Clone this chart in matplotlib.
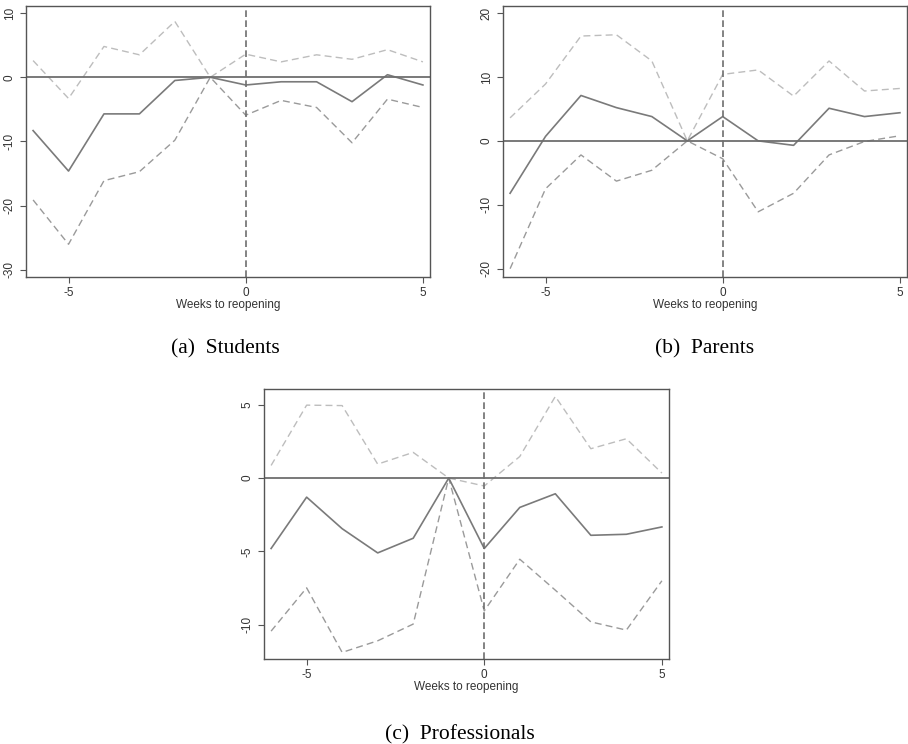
import matplotlib
matplotlib.use("Agg")
import matplotlib.pyplot as plt

plt.rcParams["axes.unicode_minus"] = False
plt.rcParams["font.family"] = ["Liberation Sans", "DejaVu Sans"]

weeks = [-6, -5, -4, -3, -2, -1, 0, 1, 2, 3, 4, 5]

# students: point estimate and 95% bounds
stu_est = [-8.3, -14.6, -5.7, -5.7, -0.5, 0, -1.2, -0.7, -0.7, -3.8, 0.4, -1.2]
stu_hi = [2.6, -3.3, 4.8, 3.5, 8.7, 0, 3.6, 2.4, 3.5, 2.8, 4.3, 2.4]
stu_lo = [-19.1, -26.0, -16.1, -14.7, -9.8, 0, -5.9, -3.6, -4.7, -10.2, -3.4, -4.7]

# parents
par_est = [-8.2, 0.7, 7.1, 5.2, 3.8, 0, 3.8, 0.0, -0.7, 5.1, 3.8, 4.4]
par_hi = [3.6, 8.9, 16.4, 16.6, 12.5, 0, 10.4, 11.1, 7.0, 12.5, 7.8, 8.2]
par_lo = [-20.0, -7.5, -2.2, -6.3, -4.6, 0, -2.8, -11.1, -8.2, -2.2, -0.1, 0.8]

# professionals
pro_est = [-4.8, -1.3, -3.45, -5.1, -4.1, 0, -4.8, -2.0, -1.07, -3.9, -3.83, -3.33]
pro_hi = [0.86, 4.97, 4.94, 0.95, 1.75, 0, -0.54, 1.47, 5.56, 2.0, 2.68, 0.34]
pro_lo = [-10.43, -7.48, -11.88, -11.09, -9.95, 0, -9.05, -5.53, -7.64, -9.8, -10.36, -7.0]

xticks = [-5, 0, 5]
fig = plt.figure(figsize=(9.08, 7.44), dpi=100)


def panel(rect, est, hi, lo, ylim, yticks, caption, cap_xy):
    ax = fig.add_axes(rect)
    ax.plot(weeks, hi, color="#bdbdbd", lw=1.0, ls=(0, (5, 3)))
    ax.plot(weeks, lo, color="#9a9a9a", lw=1.0, ls=(0, (5, 3)))
    ax.plot(weeks, est, color="#7a7a7a", lw=1.2)
    ax.axhline(0, color="#6e6e6e", lw=1.3)
    ax.axvline(0, color="#6e6e6e", lw=1.2, ls=(0, (4, 2)))
    ax.set_xlim(-6.2, 5.2)
    ax.set_ylim(*ylim)
    ax.set_xticks(xticks)
    ax.set_yticks(yticks)
    ax.set_yticklabels([str(t) for t in yticks], rotation=90, va="center")
    ax.tick_params(colors="#555555", labelcolor="#333333", labelsize=8.5,
                   length=4, width=0.8, direction="out", top=False, right=False)
    for s in ax.spines.values():
        s.set_color("#555555")
        s.set_linewidth(1.0)
    ax.set_xlabel("Weeks to reopening", fontsize=8.5, color="#333333", labelpad=0)
    fig.text(cap_xy[0], cap_xy[1], caption, ha="center", va="center",
             fontsize=15.5, family="Liberation Serif")
    return ax


W, H = 908, 744


def r(l, t, rgt, b):
    return [l / W, 1 - b / H, (rgt - l) / W, (b - t) / H]


panel(r(26, 6, 430, 277), stu_est, stu_hi, stu_lo, (-31.1, 11.1),
      [-30, -20, -10, 0, 10], "(a)  Students", (225 / W, 1 - 349 / H))
panel(r(503, 6, 907, 277), par_est, par_hi, par_lo, (-21.3, 21.1),
      [-20, -10, 0, 10, 20], "(b)  Parents", (705 / W, 1 - 349 / H))
panel(r(264, 389, 669, 659), pro_est, pro_hi, pro_lo, (-12.33, 6.07),
      [-10, -5, 0, 5], "(c)  Professionals", (460 / W, 1 - 735 / H))

fig.savefig("out.png", dpi=100)
